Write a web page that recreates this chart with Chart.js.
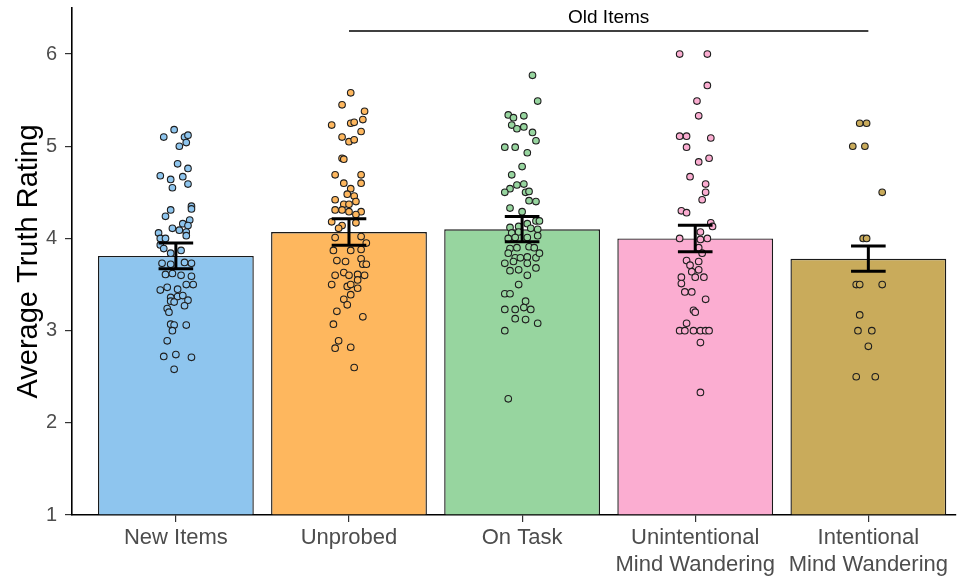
<!DOCTYPE html>
<html>
<head>
<meta charset="utf-8">
<title>Average Truth Rating</title>
<script src="https://cdn.jsdelivr.net/npm/chart.js@4.4.1/dist/chart.umd.min.js"></script>
<style>
  html, body { margin: 0; padding: 0; background: #ffffff; }
  canvas { display: block; }
</style>
</head>
<body>
<canvas id="chart" width="960" height="577"></canvas>
<script>
// Conditions on the x axis
const categories = [
  ['New Items'],
  ['Unprobed'],
  ['On Task'],
  ['Unintentional', 'Mind Wandering'],
  ['Intentional', 'Mind Wandering']
];

// Condition means and standard errors
const means = [3.81, 4.07, 4.10, 4.00, 3.78];
const stdErrors = [0.14, 0.143, 0.137, 0.143, 0.137];

// Y axis ticks
const yTicks = [1, 2, 3, 4, 5, 6];

// Participant ratings per condition, with the horizontal jitter of each dot
const newItemsRatings = [5.10,5.18,5.10,5.12,5.04,5.00,4.81,4.76,4.68,4.64,4.67,4.59,4.55,4.35,4.32,4.31,4.24,4.20,4.16,4.14,4.11,4.09,4.07,4.06,4.03,4.00,4.00,3.93,3.89,3.84,3.87,3.73,3.72,3.74,3.73,3.61,3.62,3.60,3.59,3.50,3.50,3.44,3.47,3.45,3.36,3.37,3.38,3.33,3.32,3.31,3.27,3.24,3.20,3.07,3.06,3.06,3.00,2.89,2.72,2.74,2.71,2.58];
const newItemsJitter = [-0.07,-0.01,0.05,0.07,0.06,0.02,0.01,0.07,-0.09,-0.03,0.04,0.07,-0.02,0.09,0.09,-0.03,-0.06,0.08,0.04,0.07,-0.02,0.02,0.06,-0.10,0.06,-0.09,-0.06,-0.09,-0.07,-0.03,0.03,-0.08,-0.03,0.05,0.09,-0.06,-0.02,0.03,0.09,0.06,0.10,-0.09,-0.05,0.01,-0.03,0.01,0.04,0.07,-0.03,-0.01,0.05,-0.05,-0.04,-0.03,-0.01,0.06,-0.02,-0.05,-0.07,0.00,0.09,-0.01];

const unprobedRatings = [5.58,5.45,5.38,5.23,5.25,5.26,5.29,5.16,5.10,5.05,5.07,4.87,4.86,4.69,4.69,4.60,4.60,4.54,4.48,4.46,4.42,4.40,4.37,4.37,4.31,4.31,4.29,4.29,4.26,4.18,4.14,4.17,4.11,4.01,4.02,3.95,3.87,3.87,3.88,3.76,3.75,3.78,3.72,3.72,3.60,3.63,3.60,3.61,3.60,3.55,3.50,3.48,3.50,3.46,3.39,3.34,3.28,3.21,3.15,3.07,2.89,2.81,2.82,2.60];
const unprobedJitter = [0.01,-0.04,0.09,-0.10,0.01,0.03,0.08,0.07,-0.04,0.00,0.03,-0.04,-0.03,-0.08,0.07,0.07,-0.03,0.01,-0.01,0.03,-0.08,0.04,-0.03,0.00,-0.08,-0.04,0.00,0.07,0.04,-0.10,-0.04,0.04,-0.06,-0.08,0.07,0.10,-0.09,0.01,0.07,-0.07,-0.02,0.07,0.08,0.10,-0.08,-0.03,0.00,0.05,0.09,0.05,-0.10,-0.01,0.01,0.05,0.01,-0.03,-0.01,-0.07,0.08,-0.09,-0.06,-0.08,0.01,0.03];

const onTaskRatings = [5.77,5.49,5.34,5.31,5.33,5.23,5.19,5.21,5.15,5.06,4.99,4.99,4.93,4.78,4.69,4.58,4.59,4.54,4.50,4.50,4.51,4.41,4.40,4.33,4.29,4.19,4.19,4.12,4.13,4.16,4.06,4.07,4.11,4.10,4.00,4.01,4.01,4.03,3.89,3.90,3.91,3.90,3.84,3.79,3.79,3.80,3.79,3.84,3.73,3.75,3.73,3.65,3.66,3.68,3.60,3.50,3.40,3.40,3.32,3.25,3.23,3.23,3.23,3.13,3.12,3.08,3.00,2.26];
const onTaskJitter = [0.06,0.09,-0.08,-0.05,0.01,-0.06,-0.03,0.01,0.06,0.08,-0.10,-0.04,0.03,0.00,-0.06,-0.03,0.01,-0.07,-0.10,0.02,0.04,0.04,0.08,-0.07,0.00,0.08,0.10,-0.07,-0.02,0.03,-0.06,-0.02,0.05,0.09,-0.08,-0.04,0.03,0.09,-0.07,-0.03,0.04,0.07,-0.08,-0.04,-0.01,0.03,0.08,0.10,-0.10,-0.05,0.03,-0.07,-0.02,0.08,0.03,-0.02,-0.10,-0.07,0.02,0.01,-0.10,-0.04,0.05,-0.04,0.02,0.09,-0.10,-0.08];

const unintentionalRatings = [6.00,6.00,5.66,5.49,5.33,5.11,5.11,4.99,5.09,4.83,4.87,4.67,4.59,4.50,4.42,4.30,4.28,4.17,4.13,4.07,4.00,3.99,4.00,3.90,3.84,3.76,3.75,3.71,3.64,3.66,3.58,3.58,3.58,3.51,3.42,3.42,3.34,3.22,3.20,3.08,3.00,3.00,3.00,3.00,3.00,3.00,2.87,2.33];
const unintentionalJitter = [-0.09,0.07,0.07,0.01,0.02,-0.09,-0.05,-0.05,0.09,0.02,0.08,-0.03,0.06,0.06,0.04,-0.08,-0.05,0.09,0.10,0.03,-0.09,0.03,0.07,0.02,0.04,-0.05,0.02,-0.03,-0.02,0.02,-0.08,0.00,0.05,-0.08,-0.06,-0.02,0.06,-0.01,0.00,-0.05,-0.09,-0.06,-0.01,0.03,0.06,0.08,0.03,0.03];

const intentionalRatings = [5.25,5.25,5.00,5.00,4.50,4.00,4.00,3.50,3.50,3.50,3.17,3.00,3.00,2.83,2.50,2.50];
const intentionalJitter = [-0.05,-0.01,-0.09,-0.02,0.08,-0.03,-0.01,-0.07,-0.05,0.08,-0.05,-0.06,0.02,0.00,-0.07,0.04];

// Bracket over the old-item conditions
const bracketLabel = 'Old Items';
const bracketFrom = 1;
const bracketTo = 4;
const bracketLevel = 6.25;
const bracketTextLevel = 6.39;

const fills = ['#8EC5EE', '#FEB75E', '#97D59F', '#FBADD1', '#C9AB5B'];

const ratingGroups = [
  [newItemsRatings, newItemsJitter],
  [unprobedRatings, unprobedJitter],
  [onTaskRatings, onTaskJitter],
  [unintentionalRatings, unintentionalJitter],
  [intentionalRatings, intentionalJitter]
];

const dotDatasets = ratingGroups.map(([ratings, jitter], i) => ({
  type: 'scatter',
  order: 1,
  data: ratings.map((r, k) => ({ x: i + jitter[k], y: r })),
  backgroundColor: fills[i],
  borderColor: '#1f1f1f',
  borderWidth: 1.1,
  pointRadius: 3.3,
  pointHoverRadius: 3.3
}));

const barDataset = {
  type: 'bar',
  order: 2,
  data: means.map((m, i) => ({ x: i, y: m })),
  base: 1,
  backgroundColor: fills,
  borderColor: '#1a1a1a',
  borderWidth: 1.4,
  borderSkipped: 'start',
  categoryPercentage: 1,
  barPercentage: 0.9
};

// Error bars and the bracket, drawn on top of bars and dots
const overlayPlugin = {
  id: 'overlay',
  afterDatasetsDraw(chart) {
    const { ctx } = chart;
    const xs = chart.scales.x;
    const ys = chart.scales.y;
    ctx.save();
    ctx.strokeStyle = '#000000';
    ctx.lineWidth = 3;
    ctx.lineCap = 'butt';
    means.forEach((m, i) => {
      const xc = xs.getPixelForValue(i);
      const xl = xs.getPixelForValue(i - 0.1);
      const xr = xs.getPixelForValue(i + 0.1);
      const yt = ys.getPixelForValue(m + stdErrors[i]);
      const yb = ys.getPixelForValue(m - stdErrors[i]);
      ctx.beginPath();
      ctx.moveTo(xc, yt); ctx.lineTo(xc, yb);
      ctx.moveTo(xl, yt); ctx.lineTo(xr, yt);
      ctx.moveTo(xl, yb); ctx.lineTo(xr, yb);
      ctx.stroke();
    });

    const bx1 = xs.getPixelForValue(bracketFrom);
    const bx2 = xs.getPixelForValue(bracketTo);
    const by = ys.getPixelForValue(bracketLevel);
    ctx.lineWidth = 1.5;
    ctx.beginPath();
    ctx.moveTo(bx1, by); ctx.lineTo(bx2, by);
    ctx.stroke();

    ctx.fillStyle = '#000000';
    ctx.font = '19px "Liberation Sans", Arial, sans-serif';
    ctx.textAlign = 'center';
    ctx.textBaseline = 'middle';
    ctx.fillText(bracketLabel, (bx1 + bx2) / 2, ys.getPixelForValue(bracketTextLevel));
    ctx.restore();
  }
};

new Chart(document.getElementById('chart'), {
  data: { datasets: [...dotDatasets, barDataset] },
  options: {
    responsive: false,
    devicePixelRatio: 1,
    animation: false,
    events: [],
    layout: { padding: { top: 8, right: 0, bottom: 0, left: 0 } },
    plugins: { legend: { display: false }, tooltip: { enabled: false } },
    scales: {
      x: {
        type: 'linear',
        offset: false,
        min: -0.6,
        max: 4.504,
        afterBuildTicks(scale) { scale.ticks = categories.map((c, i) => ({ value: i })); },
        afterFit(scale) { scale.height = 62; scale.paddingLeft = 0; scale.paddingRight = 0; },
        ticks: {
          autoSkip: false,
          maxRotation: 0,
          minRotation: 0,
          padding: 3,
          color: '#4D4D4D',
          font: { family: '"Liberation Sans", Arial, sans-serif', size: 22 },
          callback: (v) => categories[v]
        },
        grid: { offset: false, drawOnChartArea: false, drawTicks: true, tickLength: 7, color: '#333333', lineWidth: 1.2 },
        border: { display: true, color: '#000000', width: 1.6 }
      },
      y: {
        type: 'linear',
        min: 1,
        max: 6.5,
        afterBuildTicks(scale) { scale.ticks = yTicks.map(v => ({ value: v })); },
        afterFit(scale) { scale.width = 72; scale.paddingTop = 0; scale.paddingBottom = 0; },
        ticks: {
          padding: 8,
          color: '#4D4D4D',
          font: { family: '"Liberation Sans", Arial, sans-serif', size: 20 }
        },
        grid: { drawOnChartArea: false, drawTicks: true, tickLength: 7, color: '#333333', lineWidth: 1.2 },
        border: { display: true, color: '#000000', width: 1.6 },
        title: {
          display: true,
          text: 'Average Truth Rating',
          color: '#000000',
          padding: { top: 12, bottom: 0 },
          font: { family: '"Liberation Sans", Arial, sans-serif', size: 29 }
        }
      }
    }
  },
  plugins: [overlayPlugin]
});
</script>
</body>
</html>
